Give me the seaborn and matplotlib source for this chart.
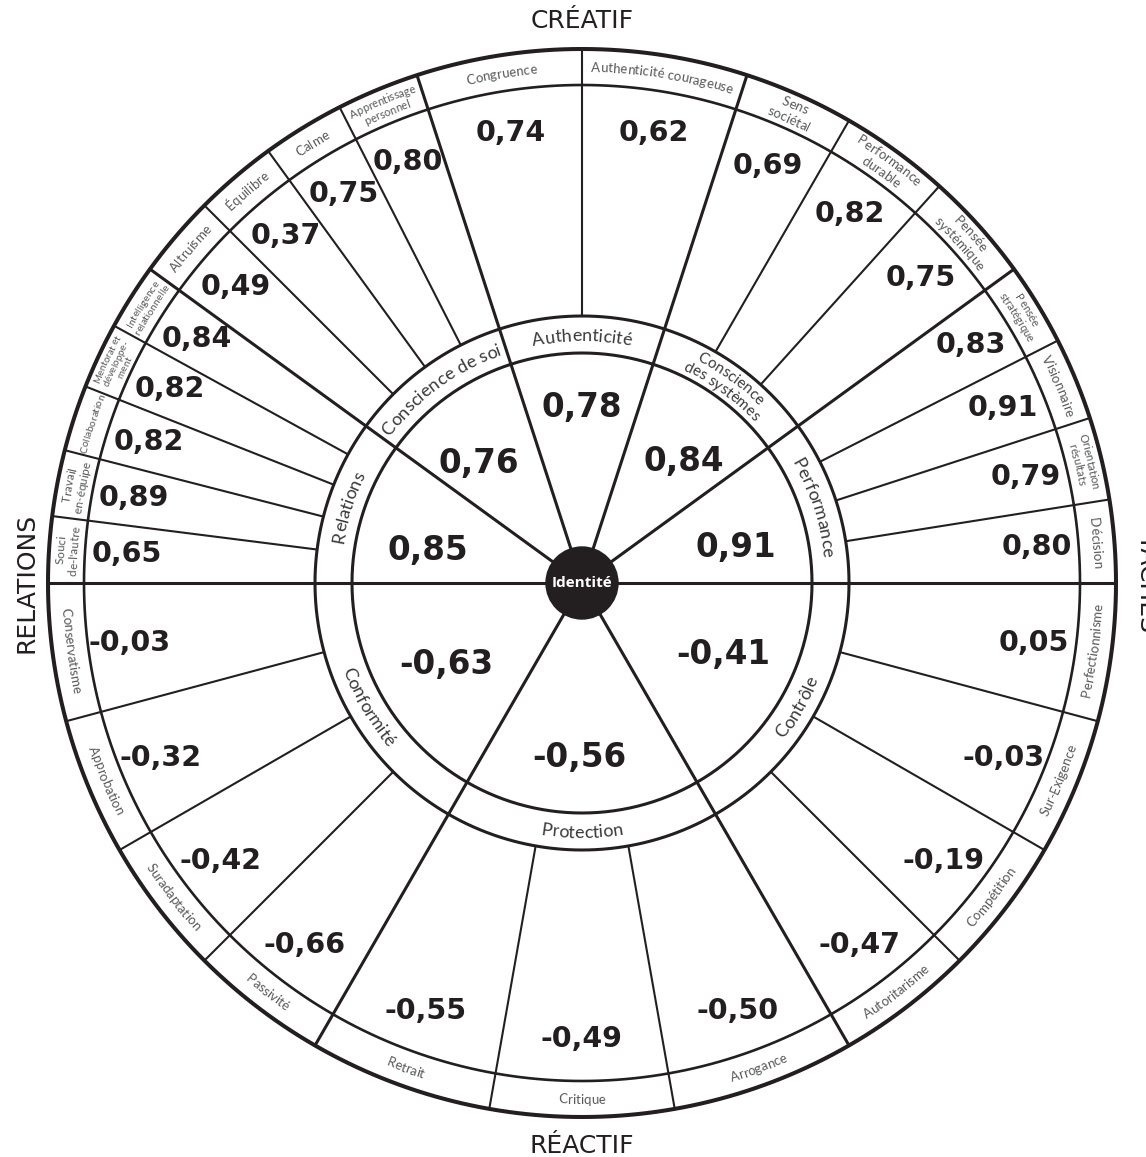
import numpy as np
import pandas as pd
import seaborn as sns
import matplotlib.pyplot as plt
from matplotlib.font_manager import FontProperties, findfont, get_font

# ---- data ----
dims_top = ["Relations", "Conscience de soi", "Authenticité", "Conscience\ndes systèmes", "Performance"]
dims_top_val = [0.85, 0.76, 0.78, 0.84, 0.91]
dims_top_n = [5, 4, 2, 3, 4]

dims_bot = ["Conformité", "Protection", "Contrôle"]
dims_bot_val = [-0.63, -0.56, -0.41]
dims_bot_n = [4, 3, 4]

top_labels = ["Souci\nde-l'autre", "Travail\nen-équipe", "Collaboration", "Mentorat et\ndéveloppe-\nment",
              "Intelligence\nrelationnelle", "Altruisme", "Équilibre", "Calme", "Apprentissage\npersonnel",
              "Congruence", "Authenticité courageuse", "Sens\nsociétal", "Performance\ndurable",
              "Pensée\nsystémique", "Pensée\nstratégique", "Visionnaire", "Orientation\nrésultats", "Décision"]
top_values = [0.65, 0.89, 0.82, 0.82, 0.84, 0.49, 0.37, 0.75, 0.80,
              0.74, 0.62, 0.69, 0.82, 0.75, 0.83, 0.91, 0.79, 0.80]

bot_labels = ["Conservatisme", "Approbation", "Suradaptation", "Passivité", "Retrait", "Critique",
              "Arrogance", "Autoritarisme", "Compétition", "Sur-Exigence", "Perfectionnisme"]
bot_values = [-0.03, -0.32, -0.42, -0.66, -0.55, -0.49, -0.50, -0.47, -0.19, -0.03, 0.05]

axis_labels = ["CRÉATIF", "RÉACTIF", "RELATIONS", "TÂCHES"]

# ---- layout ----
W, H = 1146, 1157
CX, CY = 582, 574
R_OUT, R_LAB, R_B1, R_B0, R_C = 534, 498, 267, 230, 36
INK = "#231f20"
small_font = {"Souci\nde-l'autre": 8.5, "Travail\nen-équipe": 8.5, "Collaboration": 7.5,
              "Mentorat et\ndéveloppe-\nment": 7, "Intelligence\nrelationnelle": 7.5,
              "Apprentissage\npersonnel": 8, "Pensée\nstratégique": 8, "Orientation\nrésultats": 8}
inner_shift = [6, 5, 0, -4, -5, 1, -1, 3]


def fmt(v):
    return f"{v:.2f}".replace(".", ",")


def build(dims, counts, labels, values, span, sign):
    rows, k = [], 0
    for d, n in enumerate(counts):
        a0 = 180 + sign * span * d
        step = span / n
        for j in range(n):
            s = a0 + sign * step * j
            rows.append(dict(label=labels[k], val=values[k], dim=dims[d],
                             a0=s, a1=s + sign * step, is_first=(j == 0)))
            k += 1
    return pd.DataFrame(rows)


seg_top = build(dims_top, dims_top_n, top_labels, top_values, 36, -1)
seg_bot = build(dims_bot, dims_bot_n, bot_labels, bot_values, 60, 1)

sns.set_theme(style="white")
plt.rcParams["font.family"] = ["DejaVu Sans"]

fig = plt.figure(figsize=(W / 100, H / 100), dpi=100)
ax = fig.add_axes([0, 0, 1, 1])
ax.set_xlim(0, W)
ax.set_ylim(0, H)
ax.axis("off")


def pol(r, a):
    t = np.radians(a)
    return CX + r * np.cos(t), CY + r * np.sin(t)


def radial(a, r0, r1, lw):
    x0, y0 = pol(r0, a)
    x1, y1 = pol(r1, a)
    ax.plot([x0, x1], [y0, y1], color=INK, lw=lw, solid_capstyle="butt", zorder=2)


# circles
theta = np.linspace(0, 360, 721)
for r, lw in [(R_OUT, 2.9), (R_LAB, 1.9), (R_B1, 2.2), (R_B0, 2.2)]:
    cx, cy = pol(r, theta)
    sns.lineplot(x=cx, y=cy, sort=False, estimator=None, color=INK, lw=lw, ax=ax, zorder=2)

# horizontal axis line
ax.plot([CX - R_OUT, CX + R_OUT], [CY, CY], color=INK, lw=2.2, zorder=2, solid_capstyle="butt")

# boundaries: dimension borders run to the centre, the others stop at the band
for seg in (seg_top, seg_bot):
    for _, row in seg.iterrows():
        if row["a0"] in (180, 0, 360):
            continue
        if row["is_first"]:
            radial(row["a0"], 0, R_OUT, 2.2)
        else:
            radial(row["a0"], R_B1, R_OUT, 1.5)

# center disc
ax.add_patch(plt.Circle((CX, CY), R_C, color=INK, zorder=5))
ax.text(CX, CY, "Identité", color="white", ha="center", va="center", zorder=6,
        fontproperties=FontProperties(family=["Open Sans", "DejaVu Sans"], weight="bold", size=11))


def advances(s, fp):
    font = get_font(findfont(fp))
    font.set_size(fp.get_size_in_points(), 100)
    return [font.load_char(ord(c)).linearHoriAdvance / 65536 for c in s]


def arc_text(s, r_mid, a_mid, fp, color, upper, spacing=1.15):
    lines = s.split("\n")
    em = fp.get_size_in_points() * 100 / 72
    cap = 0.72 * em
    L = spacing * em
    block = (len(lines) - 1) * L + cap
    for i, line in enumerate(lines):
        if upper:
            rb = r_mid + block / 2 - cap - i * L
        else:
            rb = r_mid - block / 2 + cap + i * L
        adv = np.array(advances(line, fp))
        pos = np.cumsum(adv) - adv / 2 - adv.sum() / 2
        for ch, p in zip(line, pos):
            if upper:
                a = a_mid - np.degrees(p / rb)
                rot = a - 90
            else:
                a = a_mid + np.degrees(p / rb)
                rot = a + 90
            x, y = pol(rb, a)
            ax.text(x, y, ch, rotation=rot, rotation_mode="anchor", ha="center", va="baseline",
                    fontproperties=fp, color=color, zorder=4)


val_fp = FontProperties(family="DejaVu Sans", weight="bold", size=20.5)
for seg, upper in ((seg_top, True), (seg_bot, False)):
    for _, row in seg.iterrows():
        mid = (row["a0"] + row["a1"]) / 2
        size = small_font.get(row["label"], 9.5)
        fp = FontProperties(family=["Lato", "DejaVu Sans"], weight="normal", size=size)
        sp = 1.0 if size < 8 else 1.12
        arc_text(row["label"], (R_OUT + R_LAB) / 2, mid, fp, "#58595b", upper, sp)
        x, y = pol(456, mid)
        ax.text(x, y, fmt(row["val"]), ha="center", va="center", fontproperties=val_fp, color=INK, zorder=4)

# dimension band labels and values
inner_fp = FontProperties(family="DejaVu Sans", weight="bold", size=23.5)
dims = [(n, v, 180 - 36 * i - 18, True) for i, (n, v) in enumerate(zip(dims_top, dims_top_val))]
dims += [(n, v, 180 + 60 * i + 30, False) for i, (n, v) in enumerate(zip(dims_bot, dims_bot_val))]
for k, (name, v, mid, upper) in enumerate(dims):
    size = 11 if "\n" in name else 13
    fp = FontProperties(family=["Lato", "DejaVu Sans"], weight="normal", size=size)
    arc_text(name, (R_B1 + R_B0) / 2, mid, fp, "#3a3a3c", upper, 0.95)
    r = 175 if mid in (90, 270) else 158
    x, y = pol(r, mid + inner_shift[k])
    ax.text(x, y, fmt(v), ha="center", va="center", fontproperties=inner_fp, color=INK, zorder=4)

# axis titles
tfp = FontProperties(family="DejaVu Sans", size=18)
ax.text(CX, H - 21.5, axis_labels[0], ha="center", va="center", fontproperties=tfp, color=INK)
ax.text(CX, 11, axis_labels[1], ha="center", va="center", fontproperties=tfp, color=INK)
ax.text(26, CY, axis_labels[2], ha="center", va="center", rotation=90, fontproperties=tfp, color=INK)
ax.text(1147, CY, axis_labels[3], ha="center", va="center", rotation=-90, fontproperties=tfp, color=INK)

fig.savefig("out.png", dpi=100, facecolor="white")
